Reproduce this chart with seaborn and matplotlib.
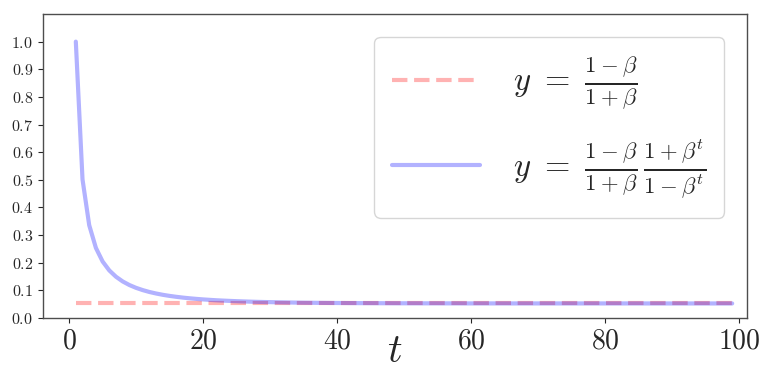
import numpy as np
import pandas as pd
import matplotlib
matplotlib.use('Agg')
import matplotlib.pyplot as plt
import seaborn as sns

# values
t_values = list(range(1, 100))
y_values = [
    1.0, 0.5014, 0.3358, 0.2535, 0.2044, 0.1720, 0.1492, 0.1322, 0.1192, 0.1090,
    0.1008, 0.0940, 0.0885, 0.0838, 0.0799, 0.0766, 0.0737, 0.0712, 0.0691, 0.0672,
    0.0656, 0.0641, 0.0629, 0.0618, 0.0608, 0.0599, 0.0591, 0.0584, 0.0578, 0.0573,
    0.0568, 0.0564, 0.0560, 0.0556, 0.0553, 0.0551, 0.0548, 0.0546, 0.0544, 0.0542,
    0.0541, 0.0539, 0.0538, 0.0537, 0.0536, 0.0535, 0.0534, 0.0533, 0.0532, 0.0532,
    0.0531, 0.0531, 0.0530, 0.0530, 0.0530, 0.0529, 0.0529, 0.0529, 0.0528, 0.0528,
    0.0528, 0.0528, 0.0528, 0.0528, 0.0528, 0.0527, 0.0527, 0.0527, 0.0527, 0.0527,
    0.0527, 0.0527, 0.0527, 0.0527, 0.0527, 0.0527, 0.0527, 0.0527, 0.0527, 0.0527,
    0.0527, 0.0527, 0.0527, 0.0527, 0.0527, 0.0526, 0.0526, 0.0526, 0.0526, 0.0526,
    0.0526, 0.0526, 0.0526, 0.0526, 0.0526, 0.0526, 0.0526, 0.0526, 0.0526,
]
flat_value = 0.0526
y_ticks = [0.0, 0.1, 0.2, 0.3, 0.4, 0.5, 0.6, 0.7, 0.8, 0.9, 1.0]
x_ticks = [0, 20, 40, 60, 80, 100]
label_flat = r'$y\ =\ \frac{1-\beta}{1+\beta}$'
label_curve = r'$y\ =\ \frac{1-\beta}{1+\beta}\,\frac{1+\beta^t}{1-\beta^t}$'

df = pd.DataFrame({'t': t_values, 'y': y_values, 'flat': [flat_value] * len(t_values)})

sns.set_style('ticks', {'axes.edgecolor': '0.3'})
plt.rcParams['font.family'] = 'serif'
plt.rcParams['font.serif'] = ['cmr10', 'DejaVu Serif']
plt.rcParams['mathtext.fontset'] = 'cm'
plt.rcParams['axes.formatter.use_mathtext'] = True
plt.rcParams['axes.linewidth'] = 1.0

fig = plt.figure(figsize=(7.61, 3.81), dpi=100)
ax = fig.add_axes([0.0565, 0.1654, 0.925, 0.7979])

sns.lineplot(data=df, x='t', y='flat', ax=ax, color='r', alpha=0.3, lw=3,
             linestyle='--', label=label_flat)
sns.lineplot(data=df, x='t', y='y', ax=ax, color='b', alpha=0.3, lw=3,
             label=label_curve)

ax.set_xlim(-3.9, 101.2)
ax.set_ylim(0, 1.1)
ax.set_yticks(y_ticks)
ax.set_xticks(x_ticks)
ax.tick_params(axis='y', labelsize=11.5)
ax.tick_params(axis='x', labelsize=20)
ax.set_ylabel('')
ax.set_xlabel(r'$t$', fontsize=29, labelpad=-14)

leg = ax.legend(loc='upper right', fontsize=23.5, handlelength=2.7,
                handletextpad=1.0, borderpad=0.55, borderaxespad=0.7,
                labelspacing=0.75)

plt.savefig('out.png', dpi=100)
